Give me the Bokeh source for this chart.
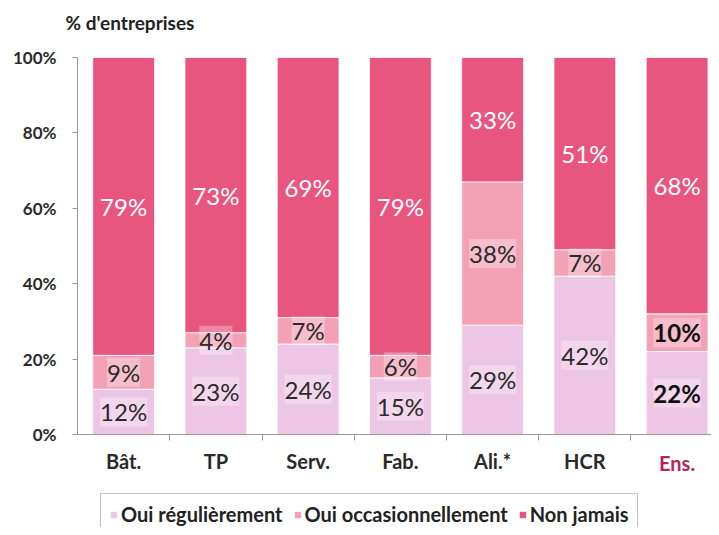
from bokeh.plotting import figure
from bokeh.models import (ColumnDataSource, Range1d, FixedTicker, Legend, LegendItem, Label)
from bokeh.core.properties import value
from bokeh.embed import file_html
from bokeh.resources import INLINE

categories = ["Bât.", "TP", "Serv.", "Fab.", "Ali.*", "HCR", "Ens."]
regulier = [12, 23, 24, 15, 29, 42, 22]
occasion = [9, 4, 7, 6, 38, 7, 10]
jamais = [79, 73, 69, 79, 33, 51, 68]
series_names = ["Oui régulièrement", "Oui occasionnellement", "Non jamais"]
y_ticks = [0, 20, 40, 60, 80, 100]

colors = ["#ECC6E4", "#F3A1B6", "#E8557F"]
FONT = "Lato"

n = len(categories)
xs = list(range(n))
b1 = [0] * n
t1 = regulier
t2 = [a + b for a, b in zip(regulier, occasion)]
t3 = [a + b for a, b in zip(t2, jamais)]

p = figure(width=711, height=527, output_backend="svg", toolbar_location=None,
           x_range=Range1d(-1.335, 6.373), y_range=Range1d(-24.67, 115.12),
           min_border_left=0, min_border_right=0, min_border_top=0, min_border_bottom=0)
p.outline_line_color = None
p.grid.visible = False
p.background_fill_color = "white"

src = ColumnDataSource(dict(x=xs, b1=b1, t1=t1, t2=t2, t3=t3))
W = 0.67
r1 = p.vbar(x="x", bottom="b1", top="t1", width=W, source=src, fill_color=colors[0], line_color="white", line_width=0.8)
r2 = p.vbar(x="x", bottom="t1", top="t2", width=W, source=src, fill_color=colors[1], line_color="white", line_width=0.8)
r3 = p.vbar(x="x", bottom="t2", top="t3", width=W, source=src, fill_color=colors[2], line_color="white", line_width=0.8)

def mids(lo, hi):
    return [(a + b) / 2 for a, b in zip(lo, hi)]

LBL = "24px"
lab_low = ColumnDataSource(dict(
    x=xs[:-1] + xs[:-1],
    y=mids(b1, t1)[:-1] + mids(t1, t2)[:-1],
    t=[f"{v}%" for v in regulier[:-1]] + [f"{v}%" for v in occasion[:-1]],
))
p.text(x="x", y="y", text="t", source=lab_low, text_align="center", text_baseline="middle",
       text_font=value(FONT), text_font_size=LBL, text_color="#2b2b2b",
       background_fill_color="white", background_fill_alpha=0.3)
lab_ens = ColumnDataSource(dict(
    x=[xs[-1], xs[-1]],
    y=[mids(b1, t1)[-1], mids(t1, t2)[-1]],
    t=[f"{regulier[-1]}%", f"{occasion[-1]}%"],
))
p.text(x="x", y="y", text="t", source=lab_ens, text_align="center", text_baseline="middle",
       text_font=value(FONT), text_font_size=LBL, text_font_style="bold", text_color="#111111",
       background_fill_color="white", background_fill_alpha=0.3)
lab_top = ColumnDataSource(dict(x=xs, y=mids(t2, t3), t=[f"{v}%" for v in jamais]))
p.text(x="x", y="y", text="t", source=lab_top, text_align="center", text_baseline="middle",
       text_font=value(FONT), text_font_size=LBL, text_color="white")

# y axis (placed at the left edge of the first category slot)
p.yaxis.fixed_location = -0.5
p.yaxis.ticker = FixedTicker(ticks=y_ticks)
p.yaxis.bounds = (0, 100)
p.yaxis.major_label_overrides = {v: f"{v}%" for v in y_ticks}
p.yaxis.major_label_text_font = FONT
p.yaxis.major_label_text_font_size = "17px"
p.yaxis.major_label_text_font_style = "bold"
p.yaxis.major_label_text_color = "#2a2a2a"
p.yaxis.major_tick_in = 0
p.yaxis.major_tick_out = 5
p.yaxis.minor_tick_out = 0
p.yaxis.minor_tick_in = 0
p.yaxis.axis_line_color = "#999999"
p.yaxis.major_tick_line_color = "#999999"
p.yaxis.major_label_standoff = 16

# x axis (placed at y = 0 inside the frame)
p.xaxis.fixed_location = 0
p.xaxis.bounds = (-0.5, 6.373)
p.xaxis.ticker = FixedTicker(ticks=xs, minor_ticks=[i + 0.5 for i in xs[:-1]])
p.xaxis.major_label_overrides = {i: (c if i < n - 1 else "") for i, c in enumerate(categories)}
p.xaxis.major_label_text_font = FONT
p.xaxis.major_label_text_font_size = "20px"
p.xaxis.major_label_text_font_style = "bold"
p.xaxis.major_label_text_color = "#2a2a2a"
p.xaxis.major_tick_in = 0
p.xaxis.major_tick_out = 0
p.xaxis.minor_tick_in = 0
p.xaxis.minor_tick_out = 6
p.xaxis.minor_tick_line_color = "#999999"
p.xaxis.axis_line_color = "#999999"
p.xaxis.major_label_standoff = 9

p.add_layout(Label(x=xs[-1], y=-7.6, text=categories[-1], text_align="center", text_baseline="middle",
                   text_font=FONT, text_font_size="20px", text_font_style="bold", text_color="#B5245A"))
p.add_layout(Label(x=-0.63, y=109.3, text="% d'entreprises", text_align="left", text_baseline="middle",
                   text_font=FONT, text_font_size="19px", text_font_style="bold", text_color="#222222"))

legend = Legend(items=[LegendItem(label=series_names[0], renderers=[r1]),
                       LegendItem(label=series_names[1], renderers=[r2]),
                       LegendItem(label=series_names[2], renderers=[r3])],
                orientation="horizontal", location=(100, -8),
                label_text_font=FONT, label_text_font_size="20px", label_text_font_style="bold",
                label_text_color="#222222", glyph_width=9, glyph_height=9, label_height=22,
                label_standoff=3, spacing=10, padding=8, margin=0,
                border_line_color="#888888", border_line_width=1)
p.add_layout(legend, "center")

open("out.html", "w").write(file_html(p, INLINE))
